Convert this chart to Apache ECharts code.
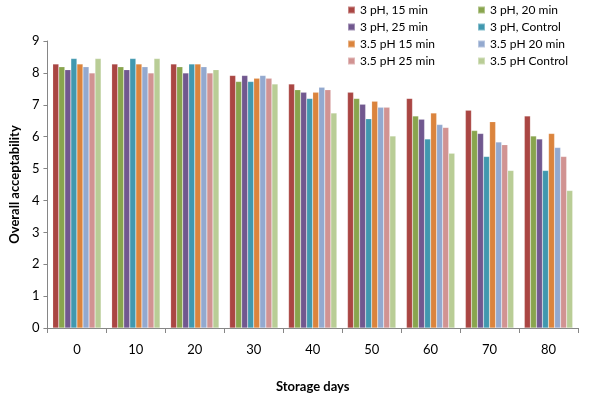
<!DOCTYPE html>
<html>
<head>
<meta charset="utf-8">
<script src="https://cdn.jsdelivr.net/npm/echarts@6/dist/echarts.min.js"></script>
<style>html,body{margin:0;padding:0;background:#fff}#c{width:600px;height:398px}</style>
</head>
<body>
<div id="c"></div>
<script>
var categories = ['0', '10', '20', '30', '40', '50', '60', '70', '80'];
var seriesNames = ['3 pH, 15 min', '3 pH, 20 min', '3 pH, 25 min', '3 pH, Control',
                   '3.5 pH 15 min', '3.5 pH 20 min', '3.5 pH 25 min', '3.5 pH Control'];
var pH3_15 = [8.28, 8.28, 8.28, 7.92, 7.65, 7.39, 7.20, 6.83, 6.65];
var pH3_20 = [8.19, 8.19, 8.19, 7.73, 7.47, 7.20, 6.65, 6.19, 6.02];
var pH3_25 = [8.10, 8.10, 8.00, 7.92, 7.39, 7.02, 6.55, 6.10, 5.93];
var pH3_ctrl = [8.45, 8.45, 8.28, 7.73, 7.20, 6.56, 5.93, 5.38, 4.94];
var pH35_15 = [8.28, 8.28, 8.28, 7.83, 7.39, 7.11, 6.74, 6.47, 6.10];
var pH35_20 = [8.19, 8.19, 8.19, 7.92, 7.55, 6.92, 6.38, 5.83, 5.66];
var pH35_25 = [8.00, 8.00, 8.00, 7.83, 7.47, 6.92, 6.29, 5.75, 5.38];
var pH35_ctrl = [8.45, 8.45, 8.10, 7.65, 6.74, 6.02, 5.48, 4.94, 4.31];
var yTicks = [0, 1, 2, 3, 4, 5, 6, 7, 8, 9];

var colors = ['#AA4643', '#89A54E', '#71588F', '#4198AF', '#DB843D', '#93A9CF', '#D19392', '#B9CD96'];
var values = [pH3_15, pH3_20, pH3_25, pH3_ctrl, pH35_15, pH35_20, pH35_25, pH35_ctrl];

var series = values.map(function (v, i) {
  return {
    name: seriesNames[i],
    type: 'bar',
    data: v,
    barGap: '0%',
    barCategoryGap: '18%',
    itemStyle: { color: colors[i], borderColor: 'rgba(255,255,255,0.35)', borderWidth: 0.5 },
    emphasis: { disabled: true },
    animation: false
  };
});

var font = 'Lato, "Open Sans", sans-serif';
var legendCommon = {
  orient: 'vertical',
  top: 3,
  padding: 0,
  itemWidth: 7,
  itemHeight: 7,
  itemGap: 3,
  icon: 'rect',
  textStyle: { fontFamily: font, fontSize: 12, color: '#000', lineHeight: 14 },
  selectedMode: false
};

var chart = echarts.init(document.getElementById('c'));
chart.setOption({
  backgroundColor: '#fff',
  color: colors,
  animation: false,
  legend: [
    Object.assign({}, legendCommon, { left: 347, data: [seriesNames[0], seriesNames[2], seriesNames[4], seriesNames[6]] }),
    Object.assign({}, legendCommon, { left: 477, data: [seriesNames[1], seriesNames[3], seriesNames[5], seriesNames[7]] })
  ],
  grid: { left: 41, right: 22, top: 41, bottom: 65 },
  xAxis: {
    type: 'category',
    data: categories,
    boundaryGap: true,
    name: 'Storage days',
    nameLocation: 'middle',
    nameGap: 52,
    nameTextStyle: { fontFamily: font, fontSize: 13, fontWeight: 'bold', color: '#000' },
    axisLine: { lineStyle: { color: '#868686', width: 1 } },
    axisTick: { show: true, alignWithLabel: false, length: 5, lineStyle: { color: '#868686' } },
    axisLabel: { fontFamily: font, fontSize: 13, color: '#000', margin: 15 },
    splitLine: { show: false }
  },
  yAxis: {
    type: 'value',
    min: 0,
    max: 9,
    interval: 1,
    name: 'Overall acceptability',
    nameLocation: 'middle',
    nameGap: 25,
    nameTextStyle: { fontFamily: font, fontSize: 13, fontWeight: 'bold', color: '#000' },
    axisLine: { show: true, lineStyle: { color: '#868686', width: 1 } },
    axisTick: { show: true, length: 4, lineStyle: { color: '#868686' } },
    axisLabel: { fontFamily: font, fontSize: 13, color: '#000', margin: 8,
      formatter: function (v) { return yTicks.indexOf(v) >= 0 ? String(v) : ''; } },
    splitLine: { show: false }
  },
  series: series
});
</script>
</body>
</html>
